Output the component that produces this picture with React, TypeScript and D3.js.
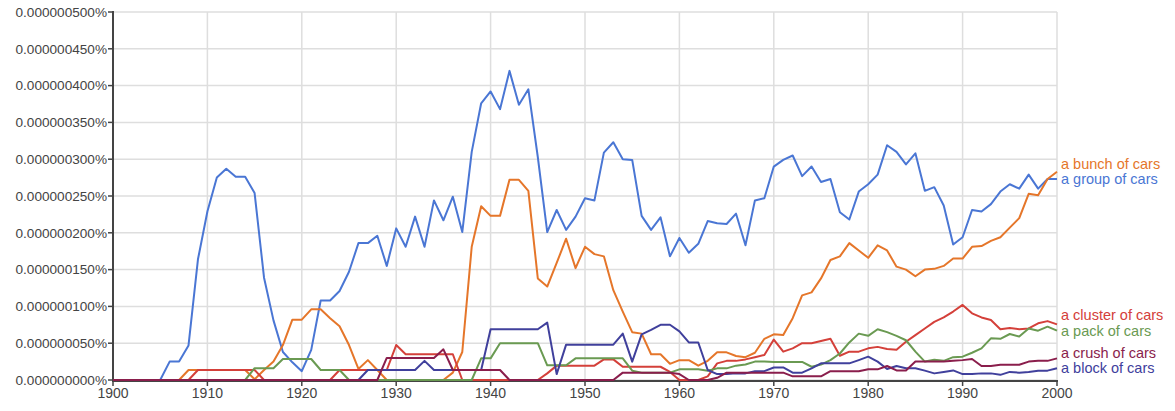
import React from "react";
import * as d3 from "d3";

// Years 1900..2000 (category axis)
const years: number[] = d3.range(1900, 2001);

// Values in units of 1e-9 percent (i.e. 500 => 0.000000500%)
const groupOfCars = [
  0, 0, 0, 0, 0, 0, 25, 25, 47, 164, 229, 275, 287, 276, 276, 254, 139, 81, 38, 24,
  12, 41, 108, 108, 121, 147, 186, 186, 196, 155, 206, 181, 222, 181, 244, 217, 249, 201, 310, 376,
  392, 368, 420, 374, 395, 303, 201, 231, 204, 222, 247, 244, 309, 323, 300, 299, 223, 204, 221, 168,
  193, 173, 185, 216, 213, 212, 226, 183, 244, 247, 290, 299, 305, 277, 290, 269, 273, 228, 218, 256,
  266, 279, 319, 310, 293, 308, 257, 262, 237, 184, 194, 231, 229, 239, 256, 266, 260, 279, 260, 273,
  273,
];

const bunchOfCars = [
  0, 0, 0, 0, 0, 0, 0, 0, 13.6, 13.6, 13.6, 13.6, 13.6, 13.6, 13.6, 1, 13.6, 25, 47.5, 82,
  82, 96, 96, 84, 73, 47.5, 15, 27, 13.6, 0, 0, 0, 0, 0, 0, 0, 10, 38, 181, 236,
  223, 223, 272, 272, 257, 138, 127, 159, 192, 152, 181, 171, 168, 122, 93, 65, 63, 35, 35, 22,
  27, 27, 19.5, 26, 37.6, 37.6, 32.6, 31, 37, 56, 62, 61, 84, 115, 119, 138, 163, 168, 186, 176,
  166, 183, 176, 154, 150, 141, 150, 151, 155, 165, 165, 181, 182, 189, 194, 207, 220, 253, 251, 273,
  283,
];

const clusterOfCars = [
  0, 0, 0, 0, 0, 0, 0, 0, 0, 13.6, 13.6, 13.6, 13.6, 13.6, 13.6, 13.6, 0, 0, 0, 0,
  0, 0, 0, 0, 13.6, 13.6, 13.6, 13.6, 13.6, 13.6, 47.5, 35, 35, 35, 35, 35, 35, 0, 0, 0,
  0, 0, 0, 0, 0, 0, 9, 19.5, 19.5, 19.5, 19.5, 19.5, 28, 28, 18, 18, 18, 18, 18, 11,
  0, 0, 0, 5, 22.6, 26, 26, 28, 31, 34, 55, 38.5, 43, 50, 50, 53, 56, 33, 38.5, 38.5,
  43, 45, 42, 41, 52, 61, 70, 79, 85, 93, 102, 90.6, 85, 81.5, 69, 70.5, 69, 70, 77, 80,
  75.6,
];

const packOfCars = [
  0, 0, 0, 0, 0, 0, 0, 0, 0, 0, 0, 0, 0, 0, 0, 16, 16, 16, 28.5, 28.5,
  28.5, 28.5, 13.6, 13.6, 13.6, 0, 0, 0, 0, 0, 0, 0, 0, 0, 0, 0, 0, 0, 0, 29.4,
  29.4, 50, 50, 50, 50, 50, 20, 20, 20, 29.4, 29.4, 29.4, 29.4, 29.4, 29.4, 12.7, 10, 10, 10, 10,
  14.5, 14.5, 14.5, 12.7, 15.8, 15.8, 19.5, 21, 25, 25, 24.5, 24.5, 24.5, 24.5, 18, 21, 27, 36, 51, 63,
  60, 69, 65, 60, 54, 38.5, 25, 27.6, 26, 31, 31.7, 37, 43, 56.6, 56, 62.5, 59, 70, 67, 72.5,
  67,
];

const blockOfCars = [
  0, 0, 0, 0, 0, 0, 0, 0, 0, 0, 0, 0, 0, 0, 0, 0, 0, 0, 0, 0,
  0, 0, 0, 0, 0, 0, 0, 13.6, 13.6, 13.6, 13.6, 13.6, 13.6, 26, 13.6, 13.6, 13.6, 13.6, 13.6, 13.6,
  69, 69, 69, 69, 69, 69, 78, 8, 48, 48, 48, 48, 48, 48, 63, 25, 62, 68, 75, 75,
  66, 51, 51, 13.6, 8, 8, 9, 9, 12, 12, 17, 17, 10, 10, 15.8, 22.6, 22.6, 22.6, 22.6, 27,
  31.7, 25, 15, 19, 16, 16, 12.7, 9, 11, 13, 8, 8, 9, 9, 7, 11, 10, 11, 12.7, 12.7,
  16,
];

const crushOfCars = [
  0, 0, 0, 0, 0, 0, 0, 0, 0, 0, 0, 0, 0, 0, 0, 0, 0, 0, 0, 0,
  0, 0, 0, 0, 0, 0, 0, 0, 0, 30, 30, 30, 30, 30, 30, 41.7, 13.6, 13.6, 13.6, 13.6,
  13.6, 13.6, 0, 0, 0, 0, 0, 0, 0, 0, 0, 0, 0, 0, 10, 10, 10, 10, 10, 10,
  8, 0, 0, 0, 3, 10, 10, 10, 10, 10, 10, 10, 5, 5, 5, 5, 12, 12, 12, 12,
  14.5, 14.5, 19, 13, 13, 25, 25, 25, 25, 26, 27, 28.5, 19, 19, 20.7, 20.7, 20.7, 25, 26, 26,
  29.4,
];

const yTicks = [0, 50, 100, 150, 200, 250, 300, 350, 400, 450, 500];
const xTicks = [1900, 1910, 1920, 1930, 1940, 1950, 1960, 1970, 1980, 1990, 2000];

type Series = { name: string; values: number[]; color: string };

// drawing order (bottom to top)
const series: Series[] = [
  { name: "a group of cars", values: groupOfCars, color: "#4a76d4" },
  { name: "a bunch of cars", values: bunchOfCars, color: "#e5762a" },
  { name: "a cluster of cars", values: clusterOfCars, color: "#d4403a" },
  { name: "a pack of cars", values: packOfCars, color: "#6a9a52" },
  { name: "a block of cars", values: blockOfCars, color: "#40409c" },
  { name: "a crush of cars", values: crushOfCars, color: "#8a1e4c" },
];

const W = 1175;
const H = 411;
const FONT = "'Liberation Sans', Arial, sans-serif";

export default function App() {
  const x = d3.scaleLinear().domain([1900, 2000]).range([113, 1057]);
  const y = d3.scaleLinear().domain([0, 500]).range([380, 12]);

  const line = d3
    .line<number>()
    .x((_, i) => x(years[i]))
    .y((d) => y(d));

  // end labels: place at end value, push up to avoid overlap (bottom-up)
  const ends = series
    .map((s) => ({ s, yy: y(s.values[s.values.length - 1]) }))
    .sort((a, b) => b.yy - a.yy);
  const gap = 15.5;
  for (let i = 1; i < ends.length; i++) {
    if (ends[i].yy > ends[i - 1].yy - gap) ends[i].yy = ends[i - 1].yy - gap;
  }

  const fmt = (v: number) => (v * 1e-9).toFixed(9) + "%";

  return (
    <svg
      width={W}
      height={H}
      style={{ position: "absolute", left: 0, top: 0, background: "#fff" }}
      fontFamily={FONT}
    >
      {/* grid */}
      {yTicks.map((t) => (
        <line key={"gy" + t} x1={x(1900)} x2={x(2000)} y1={y(t)} y2={y(t)} stroke="#dedede" strokeWidth={1.5} />
      ))}
      {xTicks.map((t) => (
        <line key={"gx" + t} x1={x(t)} x2={x(t)} y1={y(500)} y2={y(0)} stroke="#dedede" strokeWidth={1.5} />
      ))}

      {/* axes */}
      <line x1={x(1900)} x2={x(1900)} y1={y(500) - 1} y2={y(0) + 2} stroke="#444" strokeWidth={2} />
      <line x1={x(1900) - 1} x2={x(2000) + 1} y1={y(0) + 1} y2={y(0) + 1} stroke="#444" strokeWidth={2} />
      {yTicks.map((t) => (
        <g key={"ty" + t}>
          <line x1={x(1900) - 5} x2={x(1900)} y1={y(t)} y2={y(t)} stroke="#444" strokeWidth={1.5} />
          <text x={x(1900) - 6} y={y(t)} dy="0.35em" textAnchor="end" fontSize={13.6} fill="#444">
            {fmt(t)}
          </text>
        </g>
      ))}
      {xTicks.map((t) => (
        <g key={"tx" + t}>
          <line x1={x(t)} x2={x(t)} y1={y(0)} y2={y(0) + 6} stroke="#444" strokeWidth={1.5} />
          <text x={x(t)} y={y(0) + 13} dy="0.35em" textAnchor="middle" fontSize={14} fill="#444">
            {t}
          </text>
        </g>
      ))}

      {/* series */}
      {series.map((s) => (
        <path
          key={s.name}
          d={line(s.values) || ""}
          fill="none"
          stroke={s.color}
          strokeWidth={2}
          strokeLinejoin="round"
        />
      ))}

      {/* end labels */}
      {ends.map(({ s, yy }) => (
        <text key={"l" + s.name} x={x(2000) + 4} y={yy} dy="0.35em" fontSize={14.5} fill={s.color}>
          {s.name}
        </text>
      ))}
    </svg>
  );
}
